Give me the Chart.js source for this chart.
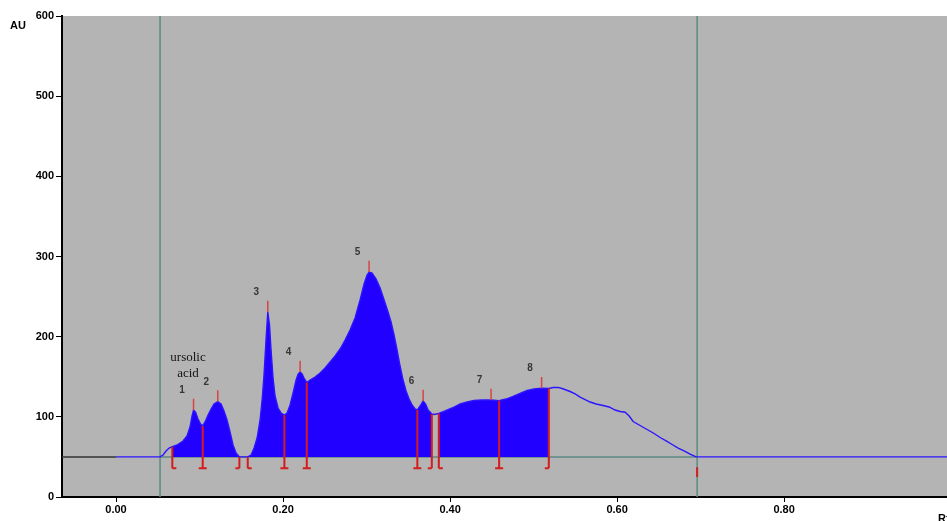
<!DOCTYPE html>
<html>
<head>
<meta charset="utf-8">
<script src="https://cdn.jsdelivr.net/npm/chart.js@4/dist/chart.umd.min.js"></script>
<style>
  html, body { margin: 0; padding: 0; overflow: hidden; background: #fff; }
  canvas { display: block; }
</style>
</head>
<body>
<canvas id="scan" width="947" height="521"></canvas>
<script>
// Densitometric scan of one track: Rf position vs. detector response (AU)
const rfValues = [
  0, 0.0527, 0.0563, 0.0599, 0.0635, 0.0674, 0.0731, 0.0802, 0.0850, 0.0886,
  0.0910, 0.0928, 0.0952, 0.0982, 0.1012, 0.1038, 0.1066, 0.1102, 0.1138, 0.1174,
  0.1218, 0.1257, 0.1293, 0.1329, 0.1365, 0.1401, 0.1437, 0.1477, 0.1577, 0.1617,
  0.1653, 0.1689, 0.1725, 0.1749, 0.1772, 0.1796, 0.1817, 0.1838, 0.1856, 0.1880,
  0.1904, 0.1940, 0.1976, 0.2016, 0.2048, 0.2084, 0.2120, 0.2156, 0.2180, 0.2204,
  0.2228, 0.2251, 0.2284, 0.2323, 0.2383, 0.2443, 0.2503, 0.2563, 0.2623, 0.2683,
  0.2743, 0.2802, 0.2862, 0.2922, 0.2970, 0.3006, 0.3030, 0.3066, 0.3114, 0.3162,
  0.3210, 0.3257, 0.3293, 0.3329, 0.3365, 0.3401, 0.3437, 0.3473, 0.3509, 0.3545,
  0.3581, 0.3608, 0.3641, 0.3677, 0.3707, 0.3737, 0.3781, 0.3808, 0.3865, 0.3940,
  0.4024, 0.4120, 0.4204, 0.4287, 0.4383, 0.4491, 0.4587, 0.4671, 0.4754, 0.4838,
  0.4922, 0.5006, 0.5096, 0.5182, 0.5234, 0.5293, 0.5341, 0.5389, 0.5437, 0.5497,
  0.5557, 0.5617, 0.5677, 0.5749, 0.5832, 0.5904, 0.5976, 0.6036, 0.6096, 0.6144,
  0.6192, 0.6275, 0.6359, 0.6443, 0.6515, 0.6587, 0.6659, 0.6731, 0.6802, 0.6874,
  0.6946, 1.0
];
const auValues = [
  50, 50, 52.4, 57.4, 61.1, 62.7, 64.9, 69.9, 76.1, 87.3,
  101.0, 108.5, 106.0, 97.3, 91.1, 88.6, 93.6, 102.3, 109.8, 116.0,
  119.1, 116.0, 107.3, 96.1, 81.1, 64.9, 54.9, 50, 50, 52.4,
  61.1, 73.6, 96.1, 121.0, 152.2, 195.8, 230.8, 214.6, 183.4, 148.4,
  126.0, 111.0, 104.8, 102.3, 104.8, 114.8, 129.7, 145.9, 153.4, 155.9,
  153.4, 148.4, 142.8, 145.9, 149.7, 154.7, 160.9, 168.4, 175.9, 184.6,
  195.8, 208.3, 223.3, 245.7, 265.7, 276.9, 280.7, 279.4, 271.9, 260.7,
  245.7, 230.8, 218.3, 202.1, 183.4, 163.4, 145.9, 132.2, 122.2, 114.8,
  109.8, 108.5, 113.5, 119.8, 116.0, 108.5, 103.5, 102.9, 104.2, 107.3,
  111.0, 116.0, 118.5, 120.4, 121.0, 121.0, 120.1, 122.2, 125.4, 129.1,
  132.8, 134.7, 135.6, 135.3, 136.6, 136.8, 135.3, 133.5, 131.6, 128.5,
  124.7, 121.6, 118.5, 116.0, 114.1, 112.3, 108.5, 106.7, 105.7, 101.0,
  94.2, 89.2, 84.2, 79.2, 74.2, 69.9, 65.5, 61.1, 57.4, 53.6,
  50, 50
];

// Integration: peak boundaries and which side each bracket foot points to
const boundaryRf   = [0.0674, 0.1038, 0.1477, 0.1577, 0.2016, 0.2284, 0.3608, 0.3781, 0.3865, 0.4587, 0.5182];
const boundaryFoot = ['right', 'both', 'left', 'right', 'both', 'both', 'both', 'left', 'right', 'both', 'left'];
// Integrated (filled) stretches of the track
const integratedRanges = [[0.0674, 0.1477], [0.1577, 0.3781], [0.3865, 0.5182]];

// Peak maxima
const peakNames = ['1', '2', '3', '4', '5', '6', '7', '8'];
const peakRf    = [0.0928, 0.1218, 0.1817, 0.2204, 0.3030, 0.3677, 0.4491, 0.5096];
const peakNote  = ['ursolic', 'acid'];   // annotation written above peak 1

// Scan window and baseline
const windowStart = 0.0527;
const windowEnd   = 0.6958;
const baselineAU  = 50;
const scanStartRf = 0;

// Axis ticks
const xTicks = [0, 0.2, 0.4, 0.6, 0.8];
const yTicks = [0, 100, 200, 300, 400, 500, 600];

// ---- drawing constants ----
const FOOT_AU = 36;        // level of the bracket feet
const FOOT_RF = 0.0048;    // half width of a bracket foot
const APEX_AU = 14;        // length of a peak apex tick
const END_MARK = [37, 25]; // tick below the end of the scan window

const BLUE  = '#2200ff';
const LINE  = '#2c14ff';
const RED   = '#d41c1c';
const GREEN = '#5b8a84';
const PLOT_BG = '#b4b4b4';

function auAt(rf) {
  for (let i = 1; i < rfValues.length; i++) {
    if (rf <= rfValues[i] + 1e-9) {
      const x0 = rfValues[i - 1], x1 = rfValues[i];
      const t = x1 === x0 ? 1 : (rf - x0) / (x1 - x0);
      return auValues[i - 1] + t * (auValues[i] - auValues[i - 1]);
    }
  }
  return auValues[auValues.length - 1];
}

const trace = rfValues.map((x, i) => ({ x, y: auValues[i] }));

const fillSets = integratedRanges.map(([a, b]) => ({
  data: trace.filter(p => p.x >= a - 1e-9 && p.x <= b + 1e-9),
  borderWidth: 0,
  backgroundColor: BLUE,
  fill: { value: baselineAU },
  pointRadius: 0,
  order: 3
}));

// bracket markers: vertical to the trace, foot at the bottom
const bracketPts = [];
boundaryRf.forEach((rf, i) => {
  const top = auAt(rf);
  const side = boundaryFoot[i];
  const left = side === 'left' || side === 'both' ? rf - FOOT_RF : rf;
  const right = side === 'right' || side === 'both' ? rf + FOOT_RF : rf;
  bracketPts.push({ x: left, y: FOOT_AU }, { x: right, y: FOOT_AU }, { x: rf, y: null });
  bracketPts.push({ x: rf, y: FOOT_AU }, { x: rf, y: top }, { x: rf, y: null });
});
bracketPts.push({ x: windowEnd, y: END_MARK[0] }, { x: windowEnd, y: END_MARK[1] });

const apexPts = [];
peakRf.forEach(rf => {
  const a = auAt(rf);
  apexPts.push({ x: rf, y: a }, { x: rf, y: a + APEX_AU }, { x: rf, y: null });
});

const lineSet = (data, color, width, order) => ({
  data, borderColor: color, borderWidth: width, pointRadius: 0,
  fill: false, spanGaps: false, order
});

const peakLabels = {
  id: 'peakLabels',
  beforeDraw(chart) {
    const { ctx, chartArea: a } = chart;
    ctx.save();
    ctx.fillStyle = '#fff';
    ctx.fillRect(0, 0, chart.width, chart.height);
    ctx.fillStyle = PLOT_BG;
    ctx.fillRect(a.left, a.top, a.right - a.left, a.bottom - a.top);
    ctx.restore();
  },
  afterDatasetsDraw(chart) {
    const { ctx } = chart;
    const xs = chart.scales.x, ys = chart.scales.y;
    ctx.save();
    ctx.textAlign = 'center';
    ctx.textBaseline = 'middle';
    ctx.font = 'bold 10px Arial, "Liberation Sans", sans-serif';
    ctx.fillStyle = '#363636';
    let firstX = 0, firstY = 0;
    peakRf.forEach((rf, i) => {
      const px = xs.getPixelForValue(rf) - 11.5;
      const py = ys.getPixelForValue(auAt(rf) + APEX_AU) - 8.5;
      if (i === 0) { firstX = px; firstY = py; }
      ctx.fillText(peakNames[i], px, py);
    });
    ctx.font = '13px "Times New Roman", "Liberation Serif", serif';
    ctx.fillStyle = '#141414';
    ctx.fillText(peakNote[0], firstX + 6, firstY - 33);
    ctx.fillText(peakNote[1], firstX + 6, firstY - 16.5);
    ctx.restore();
  },
  afterDraw(chart) {
    const { ctx } = chart;
    ctx.save();
    ctx.fillStyle = '#000';
    ctx.font = 'bold 11px Arial, "Liberation Sans", sans-serif';
    ctx.textAlign = 'left';
    ctx.textBaseline = 'middle';
    ctx.fillText('AU', 10, 26);
    ctx.textBaseline = 'top';
    ctx.fillText('Rf', 938, 513);
    ctx.restore();
  }
};

new Chart(document.getElementById('scan'), {
  type: 'line',
  data: {
    datasets: [
      lineSet(bracketPts, RED, 2, 0),
      lineSet(apexPts, '#d84444', 1.5, 0),
      lineSet(trace, LINE, 1.4, 1),
      ...fillSets,
      lineSet([{ x: -1, y: baselineAU }, { x: scanStartRf, y: baselineAU }], '#333333', 1.5, 4),
      lineSet([{ x: windowStart, y: baselineAU }, { x: windowEnd, y: baselineAU }], GREEN, 1.5, 4),
      lineSet([{ x: windowStart, y: yTicks[0] }, { x: windowStart, y: yTicks[yTicks.length - 1] }], GREEN, 1.5, 4),
      lineSet([{ x: windowEnd, y: yTicks[0] }, { x: windowEnd, y: yTicks[yTicks.length - 1] }], GREEN, 1.5, 4)
    ]
  },
  options: {
    responsive: false,
    animation: false,
    devicePixelRatio: 1,
    events: [],
    layout: { padding: { top: 16, left: 0, right: 0, bottom: 0 } },
    plugins: { legend: { display: false }, tooltip: { enabled: false } },
    scales: {
      x: {
        type: 'linear',
        min: -0.0647,
        max: 0.995,
        afterBuildTicks: s => { s.ticks = xTicks.map(v => ({ value: v })); },
        afterFit: s => { s.height = 24; },
        ticks: {
          callback: v => Number(v).toFixed(2),
          font: { family: 'Arial, "Liberation Sans", sans-serif', size: 11, weight: 'bold' },
          color: '#000',
          padding: 1,
          maxRotation: 0,
          autoSkip: false
        },
        grid: { drawOnChartArea: false, drawTicks: true, tickLength: 5, tickColor: '#000' },
        border: { display: true, color: '#000', width: 2 }
      },
      y: {
        min: yTicks[0],
        max: yTicks[yTicks.length - 1],
        afterBuildTicks: s => { s.ticks = yTicks.map(v => ({ value: v })); },
        afterFit: s => { s.width = 62; },
        ticks: {
          font: { family: 'Arial, "Liberation Sans", sans-serif', size: 11, weight: 'bold' },
          color: '#000',
          padding: 2
        },
        grid: { drawOnChartArea: false, drawTicks: true, tickLength: 6, tickColor: '#000' },
        border: { display: true, color: '#000', width: 2 }
      }
    }
  },
  plugins: [peakLabels]
});
</script>
</body>
</html>
